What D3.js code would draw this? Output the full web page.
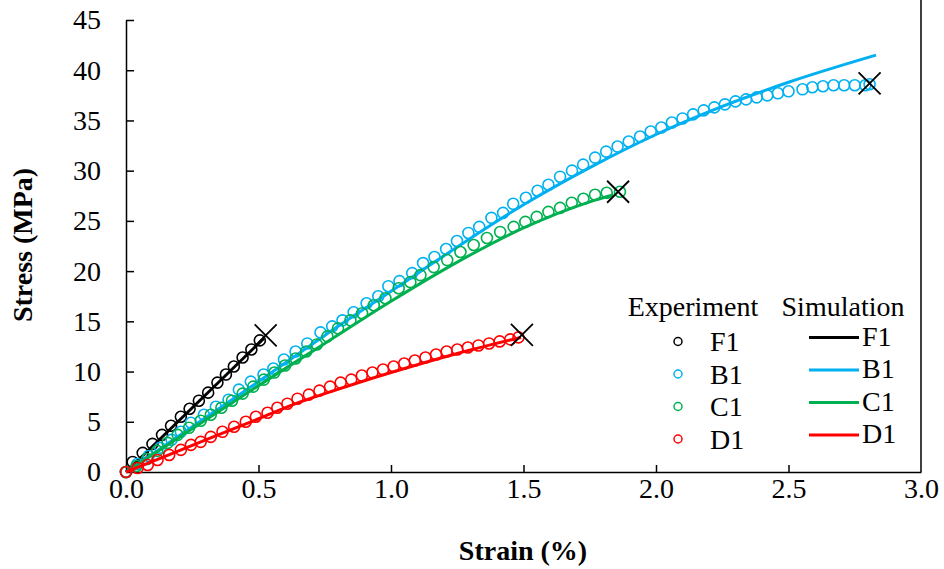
<!DOCTYPE html>
<html>
<head>
<meta charset="utf-8">
<script src="https://cdn.jsdelivr.net/npm/d3@7"></script>
<style>
	body { margin: 0; background: #fff; }
	svg { display: block; }
	text { font-family: "Liberation Serif", "Times New Roman", Times, serif; fill: #000; }
</style>
</head>
<body>
<div id="graph"></div>
<script>
var SVGwidth = 944,
	SVGheight = 569,
	margin = {top: 20, right: 23, bottom: 97, left: 126};

// series: [strain (%), stress (MPa)]
var expF1 = [[0,0],[0.025,1.0],[0.063,1.9],[0.10,2.8],[0.136,3.7],[0.17,4.6],[0.207,5.5],[0.24,6.3],
	[0.275,7.1],[0.31,7.9],[0.345,8.9],[0.377,9.7],[0.407,10.5],[0.44,11.4],[0.473,12.2],[0.505,13.1]];

var expB1 = [[0,0],[0.043,0.8],[0.086,1.6],[0.129,2.4],[0.172,3.2],[0.207,4.0],[0.245,4.9],[0.294,5.7],
	[0.339,6.5],[0.387,7.2],[0.426,8.2],[0.471,9.0],[0.519,9.7],[0.556,10.3],[0.596,11.2],[0.640,12.0],
	[0.684,12.8],[0.734,13.9],[0.778,14.5],[0.817,15.1],[0.859,15.9],[0.908,16.8],[0.952,17.5],[0.990,18.5],
	[1.032,19.0],[1.080,19.8],[1.121,20.8],[1.164,21.4],[1.208,22.2],[1.249,23.0],[1.292,23.8],[1.333,24.4],
	[1.379,25.3],[1.423,25.8],[1.461,26.7],[1.509,27.3],[1.553,28.0],[1.594,28.6],[1.638,29.4],[1.683,30.0],
	[1.725,30.6],[1.770,31.3],[1.812,31.9],[1.855,32.4],[1.897,32.9],[1.94,33.4],[1.98,33.9],[2.02,34.3],
	[2.06,34.8],[2.10,35.2],[2.14,35.6],[2.18,36.0],[2.22,36.3],[2.26,36.6],[2.30,36.9],[2.34,37.1],
	[2.38,37.3],[2.42,37.5],[2.46,37.7],[2.50,37.9],[2.553,38.1],[2.59,38.3],[2.63,38.4],[2.67,38.5],
	[2.71,38.5],[2.75,38.5],[2.79,38.5],[2.806,38.6]];

var expC1 = [[0,0],[0.04,0.6],[0.08,1.3],[0.118,2.1],[0.157,2.9],[0.195,3.7],[0.238,4.4],[0.282,5.1],
	[0.32,5.7],[0.36,6.4],[0.40,7.1],[0.44,7.8],[0.48,8.5],[0.52,9.2],[0.56,9.9],[0.60,10.6],[0.64,11.3],
	[0.68,12.0],[0.72,12.7],[0.76,13.5],[0.80,14.3],[0.847,15.1],[0.891,15.8],[0.935,16.6],[0.979,17.3],
	[1.029,18.3],[1.073,18.9],[1.111,19.6],[1.161,20.4],[1.212,21.1],[1.262,21.9],[1.312,22.6],[1.362,23.3],
	[1.412,23.9],[1.463,24.4],[1.507,24.9],[1.55,25.4],[1.594,25.9],[1.638,26.3],[1.682,26.8],[1.726,27.2],
	[1.770,27.6],[1.814,27.8],[1.864,27.9]];

var expD1 = [[0,0],[0.044,0.4],[0.082,0.7],[0.119,1.2],[0.163,1.7],[0.207,2.2],[0.245,2.7],[0.282,3.0],
	[0.32,3.5],[0.364,4.0],[0.408,4.5],[0.452,5.0],[0.49,5.5],[0.534,5.9],[0.571,6.4],[0.609,6.8],
	[0.647,7.3],[0.69,7.7],[0.73,8.1],[0.77,8.5],[0.81,8.9],[0.85,9.2],[0.89,9.6],[0.93,9.9],[0.97,10.2],
	[1.01,10.5],[1.05,10.8],[1.09,11.1],[1.13,11.4],[1.17,11.7],[1.21,12.0],[1.25,12.2],[1.29,12.4],
	[1.33,12.6],[1.37,12.8],[1.41,13.0],[1.45,13.2],[1.481,13.4]];

var simF1 = [[0,0],[0.52,13.3]];
var simB1 = [[0,0],[0.25,4.5],[0.5,9.0],[0.75,13.6],[1.0,18.0],[1.25,22.4],[1.5,26.6],[1.75,30.3],
	[2.0,33.6],[2.25,36.4],[2.5,38.8],[2.83,41.5]];
var simC1 = [[0,0],[0.25,4.3],[0.5,8.6],[0.75,12.8],[1.0,17.0],[1.25,20.9],[1.5,24.3],[1.75,26.9],[1.84,27.6]];
var simD1 = [[0,0],[0.25,2.65],[0.5,5.3],[0.66,7.0],[0.75,7.8],[1.0,9.9],[1.25,11.8],[1.49,13.4]];

// failure points (X marks)
var failures = [[0.527,13.6],[2.806,38.7],[1.857,27.9],[1.494,13.65]];

var seriesNames = ["F1", "B1", "C1", "D1"],
	seriesColors = ["#000000", "#00B0F0", "#00B050", "#FF0000"],
	expData = [expF1, expB1, expC1, expD1],
	simData = [simF1, simB1, simC1, simD1];

var xTicks = [0, 0.5, 1.0, 1.5, 2.0, 2.5, 3.0],
	yTicks = [0, 5, 10, 15, 20, 25, 30, 35, 40, 45];

var fontSize = 28;

var width = SVGwidth - margin.left - margin.right,
	height = SVGheight - margin.top - margin.bottom;

var svg = d3.select('#graph')
	.append('svg')
	.attr('width', SVGwidth)
	.attr('height', SVGheight);

var xScale = d3.scaleLinear().domain([0, 3]).range([0, width]),
	yScale = d3.scaleLinear().domain([0, 45]).range([height, 0]);

var main = svg.append('g')
	.attr('transform', 'translate(' + margin.left + ',' + margin.top + ')');

// right frame line
main.append('line')
	.attr('x1', width)
	.attr('x2', width)
	.attr('y1', -margin.top)
	.attr('y2', height)
	.attr('stroke', '#000')
	.attr('stroke-width', 1.5);

var xAxis = d3.axisBottom(xScale)
	.tickValues(xTicks)
	.tickSizeInner(-7)
	.tickSizeOuter(0)
	.tickPadding(6)
	.tickFormat(d3.format('.1f'));

var yAxis = d3.axisLeft(yScale)
	.tickValues(yTicks)
	.tickSizeInner(-8)
	.tickSizeOuter(0)
	.tickPadding(25)
	.tickFormat(d3.format('d'));

var gx = main.append('g')
	.attr('class', 'axis axis--x')
	.attr('transform', 'translate(0,' + height + ')')
	.call(xAxis);

var gy = main.append('g')
	.attr('class', 'axis axis--y')
	.call(yAxis);

main.selectAll('.axis path, .axis line')
	.attr('stroke', '#000')
	.attr('stroke-width', 1.5);

main.selectAll('.axis text')
	.attr('font-family', null)
	.attr('font-size', fontSize)
	.attr('fill', '#000');

gx.selectAll('.tick line').filter(function(d) { return d === 0 || d === 3; }).remove();
gy.selectAll('.tick line').filter(function(d) { return d === 0; }).remove();

var line = d3.line()
	.curve(d3.curveMonotoneX)
	.x(function(d) { return xScale(d[0]); })
	.y(function(d) { return yScale(d[1]); });

seriesNames.forEach(function(name, i) {
	main.append('g')
		.attr('class', 'exp exp-' + name)
		.selectAll('circle')
		.data(expData[i])
		.enter().append('circle')
		.attr('cx', function(d) { return xScale(d[0]); })
		.attr('cy', function(d) { return yScale(d[1]); })
		.attr('r', 5.5)
		.attr('fill', 'none')
		.attr('stroke', seriesColors[i])
		.attr('stroke-width', 1.6);

	main.append('path')
		.datum(simData[i])
		.attr('class', 'sim sim-' + name)
		.attr('fill', 'none')
		.attr('stroke', seriesColors[i])
		.attr('stroke-width', 3)
		.attr('stroke-linejoin', 'round')
		.attr('d', line);
});

// failure crosses
var cross = 11;
main.selectAll('.fail')
	.data(failures)
	.enter().append('path')
	.attr('class', 'fail')
	.attr('d', function(d) {
		var cx = xScale(d[0]), cy = yScale(d[1]);
		return 'M' + (cx - cross) + ',' + (cy - cross) + 'L' + (cx + cross) + ',' + (cy + cross) +
			'M' + (cx - cross) + ',' + (cy + cross) + 'L' + (cx + cross) + ',' + (cy - cross);
	})
	.attr('stroke', '#000')
	.attr('stroke-width', 1.8)
	.attr('fill', 'none');

// axis titles
svg.append('text')
	.attr('x', 523)
	.attr('y', 560)
	.attr('text-anchor', 'middle')
	.attr('font-size', fontSize)
	.attr('font-weight', 'bold')
	.text('Strain (%)');

svg.append('text')
	.attr('transform', 'translate(32,245) rotate(-90)')
	.attr('text-anchor', 'middle')
	.attr('font-size', fontSize)
	.attr('font-weight', 'bold')
	.text('Stress (MPa)');

// legend
var legend = svg.append('g').attr('class', 'legend');

legend.append('text')
	.attr('x', 693)
	.attr('y', 316)
	.attr('text-anchor', 'middle')
	.attr('font-size', fontSize)
	.text('Experiment');

legend.append('text')
	.attr('x', 843)
	.attr('y', 316)
	.attr('text-anchor', 'middle')
	.attr('font-size', fontSize)
	.text('Simulation');

seriesNames.forEach(function(name, i) {
	var ly = 341.5 + i * 32.5;
	legend.append('circle')
		.attr('cx', 678)
		.attr('cy', ly)
		.attr('r', 4)
		.attr('fill', 'none')
		.attr('stroke', seriesColors[i])
		.attr('stroke-width', 1.5);
	legend.append('text')
		.attr('x', 710)
		.attr('y', ly + 9.5)
		.attr('font-size', fontSize)
		.text(name);

	legend.append('line')
		.attr('x1', 809)
		.attr('x2', 859)
		.attr('y1', ly - 4)
		.attr('y2', ly - 4)
		.attr('stroke', seriesColors[i])
		.attr('stroke-width', 3);
	legend.append('text')
		.attr('x', 862)
		.attr('y', ly + 4)
		.attr('font-size', fontSize)
		.text(name);
});
</script>
</body>
</html>
